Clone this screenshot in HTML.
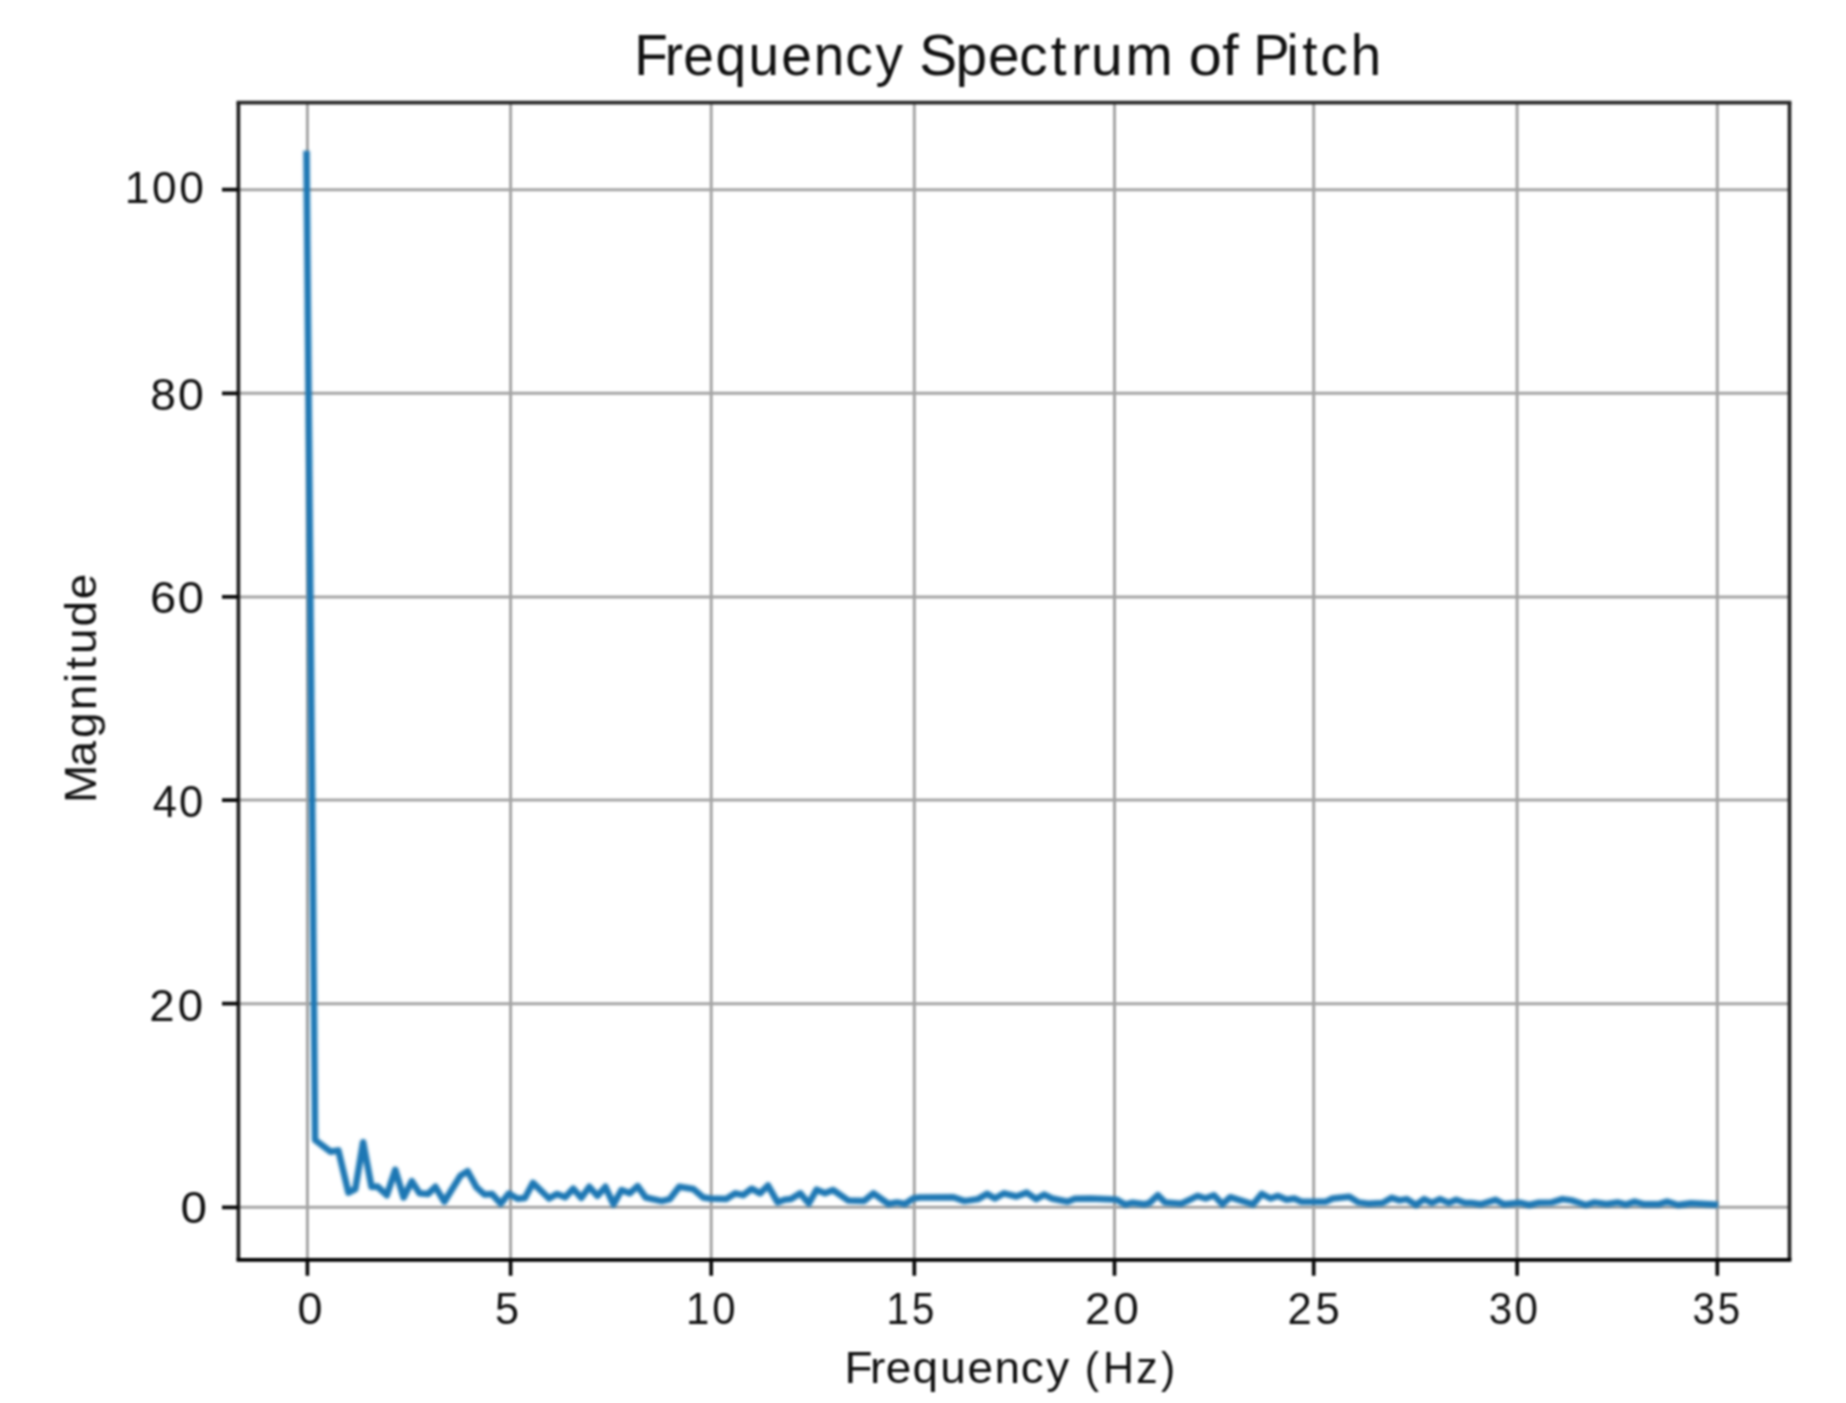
<!DOCTYPE html>
<html><head><meta charset="utf-8"><title>Frequency Spectrum of Pitch</title>
<style>html,body{margin:0;padding:0;background:#fff;}body{width:1846px;height:1403px;overflow:hidden;}svg{display:block;filter:blur(1.0px);}</style>
</head><body>
<svg width="1846" height="1403" viewBox="0 0 1846 1403"><rect x="0" y="0" width="1846" height="1403" fill="#fff"/><path d="M307.4 102.6V1259.9M510.6 102.6V1259.9M711.2 102.6V1259.9M914.3 102.6V1259.9M1114.5 102.6V1259.9M1313.7 102.6V1259.9M1517.1 102.6V1259.9M1717.3 102.6V1259.9M238.4 1207.3H1789.5M238.4 1003.7H1789.5M238.4 800.1H1789.5M238.4 596.9H1789.5M238.4 393.3H1789.5M238.4 189.7H1789.5" stroke="#a5a5a5" stroke-width="3.0" fill="none"/><defs><filter id="lb" x="-5%" y="-5%" width="110%" height="110%"><feGaussianBlur stdDeviation="1.0"/></filter></defs><path d="M306.5 154.0 L315.1 1140.0 L330.5 1151.7 L338.4 1150.4 L348.4 1192.6 L355.3 1189.0 L363.1 1142.2 L371.5 1186.8 L377.4 1186.5 L386.8 1195.2 L395.3 1169.9 L403.6 1197.5 L411.8 1181.2 L419.5 1193.3 L428.2 1193.9 L435.4 1186.8 L444.3 1201.7 L460.4 1175.7 L467.6 1171.2 L476.5 1187.4 L484.6 1194.6 L492.0 1194.0 L500.7 1203.7 L508.8 1193.6 L517.6 1198.8 L524.9 1198.1 L532.9 1182.9 L549.0 1198.5 L557.1 1193.9 L565.2 1197.2 L573.2 1188.7 L581.3 1197.8 L589.3 1186.8 L597.4 1195.9 L605.4 1186.8 L613.5 1204.3 L621.5 1190.0 L629.6 1193.3 L637.6 1186.1 L645.7 1197.5 L661.8 1201.1 L669.8 1199.1 L679.3 1186.8 L693.3 1189.0 L703.3 1197.5 L710.1 1198.5 L726.2 1199.1 L735.4 1193.3 L743.2 1195.2 L751.7 1188.7 L760.0 1193.3 L768.0 1185.5 L777.6 1202.4 L784.5 1199.8 L791.0 1199.1 L800.3 1193.3 L808.8 1203.5 L816.6 1189.7 L825.0 1193.3 L833.0 1190.0 L848.1 1200.4 L864.0 1201.1 L873.5 1193.3 L888.4 1204.0 L897.0 1202.4 L905.0 1204.0 L913.2 1198.5 L919.5 1197.5 L953.5 1197.2 L964.4 1201.1 L978.0 1199.1 L987.1 1193.9 L994.9 1198.5 L1004.0 1193.3 L1016.3 1196.5 L1026.7 1192.6 L1036.1 1199.1 L1044.2 1194.6 L1052.0 1198.5 L1067.6 1201.7 L1074.8 1198.8 L1091.0 1198.5 L1113.8 1199.4 L1116.9 1199.8 L1125.4 1204.6 L1132.5 1202.7 L1144.2 1204.3 L1149.4 1203.0 L1157.9 1195.2 L1165.0 1202.4 L1181.3 1203.7 L1191.0 1199.1 L1197.5 1195.9 L1205.6 1198.5 L1213.9 1195.2 L1222.4 1204.3 L1230.2 1197.2 L1240.3 1200.4 L1253.0 1204.3 L1261.8 1193.9 L1270.5 1198.5 L1278.0 1195.9 L1286.5 1199.8 L1294.3 1198.5 L1301.4 1201.7 L1326.0 1201.7 L1332.5 1198.5 L1349.4 1196.8 L1358.5 1202.4 L1368.3 1203.7 L1382.6 1203.0 L1391.7 1197.8 L1399.5 1200.4 L1406.6 1199.1 L1416.0 1205.0 L1424.1 1199.1 L1431.9 1203.0 L1440.0 1199.1 L1448.8 1203.0 L1456.2 1199.8 L1465.0 1203.0 L1471.5 1203.0 L1480.6 1204.3 L1495.6 1199.8 L1504.0 1204.3 L1509.8 1203.7 L1519.5 1202.7 L1529.3 1205.0 L1539.0 1202.7 L1552.0 1202.4 L1562.4 1199.1 L1571.5 1200.4 L1585.8 1205.0 L1594.3 1202.4 L1604.0 1203.7 L1607.8 1204.0 L1617.6 1202.4 L1626.0 1204.6 L1634.5 1201.7 L1644.2 1204.3 L1658.5 1204.3 L1667.0 1201.7 L1678.0 1205.0 L1691.0 1203.3 L1714.8 1204.5" stroke="#1f77b4" stroke-width="6.5" fill="none" stroke-linejoin="round" stroke-linecap="square" filter="url(#lb)"/><path d="M236.55 102.6H1791.35" stroke="#2a2a2a" stroke-width="3.7" fill="none"/><path d="M238.4 102.6V1259.9" stroke="#1f1f1f" stroke-width="3.7" fill="none"/><path d="M1789.5 102.6V1259.9" stroke="#262626" stroke-width="3.7" fill="none"/><path d="M236.55 1259.9H1791.35" stroke="#000" stroke-width="3.7" fill="none"/><path d="M307.4 1259.9v15.8M510.6 1259.9v15.8M711.2 1259.9v15.8M914.3 1259.9v15.8M1114.5 1259.9v15.8M1313.7 1259.9v15.8M1517.1 1259.9v15.8M1717.3 1259.9v15.8" stroke="#0a0a0a" stroke-width="3.7" fill="none"/><path d="M238.4 1207.3h-16.4M238.4 1003.7h-16.4M238.4 800.1h-16.4M238.4 596.9h-16.4M238.4 393.3h-16.4M238.4 189.7h-16.4" stroke="#0a0a0a" stroke-width="3.7" fill="none"/><g font-family="'Liberation Sans', sans-serif" fill="#111"><text transform="scale(1.0222,1)" x="291.08" y="1323.8" font-size="44.0">0</text><text transform="scale(0.9827,1)" x="503.69" y="1323.8" font-size="44.0">5</text><text transform="scale(0.9524,1)" x="720.40 747.72" y="1323.8" font-size="44.0">10</text><text transform="scale(0.9142,1)" x="969.73 997.72" y="1323.8" font-size="44.0">15</text><text transform="scale(1.0352,1)" x="1048.01 1075.58" y="1323.8" font-size="44.0">20</text><text transform="scale(0.9910,1)" x="1299.31 1327.54" y="1323.8" font-size="44.0">25</text><text transform="scale(0.9587,1)" x="1552.80 1579.81" y="1323.8" font-size="44.0">30</text><text transform="scale(0.9158,1)" x="1848.19 1875.83" y="1323.8" font-size="44.0">35</text><text transform="scale(1.0840,1)" x="166.64" y="1223.4" font-size="44.0">0</text><text transform="scale(1.0352,1)" x="144.14 171.71" y="1020.6" font-size="44.0">20</text><text transform="scale(0.9881,1)" x="154.64 181.18" y="816.8" font-size="44.0">40</text><text transform="scale(1.0687,1)" x="140.37 166.45" y="613.1" font-size="44.0">60</text><text transform="scale(1.0544,1)" x="142.49 168.88" y="409.6" font-size="44.0">80</text><text transform="scale(1.0057,1)" x="124.13 151.25 178.16" y="203.2" font-size="44.0">100</text><text transform="scale(0.9571,1)" x="662.81 694.65 713.99 747.51 782.16 816.28 850.23 883.20 914.84" y="75.0" font-size="57.5">Frequency</text><text transform="scale(0.9875,1)" x="930.99 967.73 1000.53 1032.20 1063.96 1084.71 1104.87 1139.65" y="75.0" font-size="57.5">Spectrum</text><text transform="scale(1.0348,1)" x="1148.71 1181.26" y="75.0" font-size="57.5">of</text><text transform="scale(0.9503,1)" x="1318.68 1353.67 1370.45 1389.61 1421.42" y="75.0" font-size="57.5">Pitch</text><text transform="scale(1.0237,1)" x="824.96 849.94 865.20 891.33 918.40 945.05 971.51 997.25 1021.93" y="1383.3" font-size="44.8">Frequency</text><text transform="scale(0.9558,1)" x="1134.94 1153.92 1188.80 1214.71" y="1383.3" font-size="44.8">(Hz)</text><text transform="rotate(-90) scale(1.0234,1)" x="-784.71 -748.92 -721.18 -693.98 -667.29 -654.48 -638.99 -612.31 -585.51" y="96.0" font-size="44.8">Magnitude</text></g></svg>
</body></html>
